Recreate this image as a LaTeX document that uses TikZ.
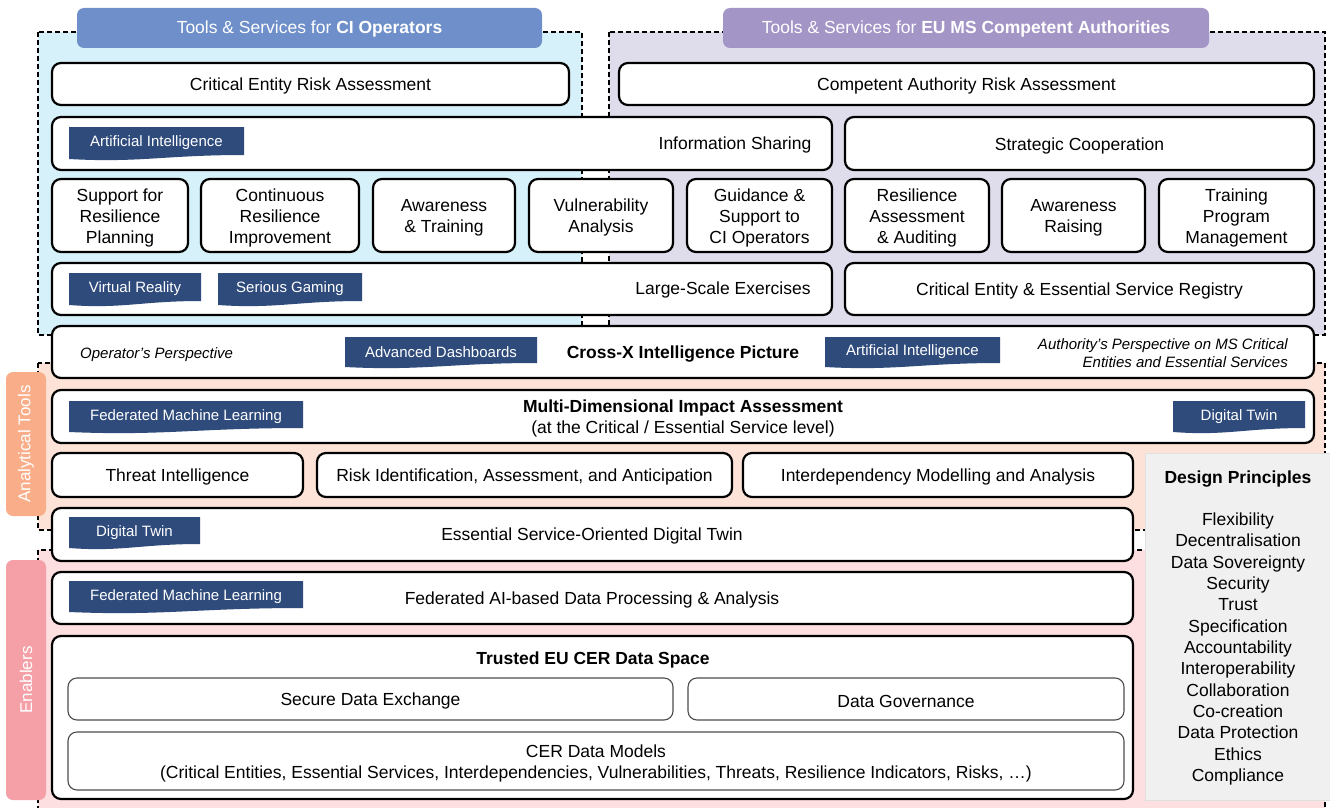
\documentclass[tikz,border=0pt]{standalone}
\usepackage{fontspec}
\setmainfont{Liberation Sans}
\usetikzlibrary{fit}
\definecolor{ciblue}{HTML}{D7F1FB}
\definecolor{eulav}{HTML}{DFDCEC}
\definecolor{anpeach}{HTML}{FDE3D7}
\definecolor{enpink}{HTML}{FDDFE1}
\definecolor{citabc}{HTML}{6E8FC9}
\definecolor{eutabc}{HTML}{A395C6}
\definecolor{antabc}{HTML}{F9AD88}
\definecolor{entabc}{HTML}{F59FA7}
\definecolor{navy}{HTML}{2F4B7C}
\definecolor{dpgray}{HTML}{F0F0F0}
\newcommand\mainfs{\fontsize{17.5}{21}\selectfont}
\newcommand\badgefs{\fontsize{15}{18}\selectfont}
\newcommand\perspfs{\fontsize{15}{18}\selectfont}
\tikzset{
 box/.style={draw=black, line width=2.2pt, rounded corners=9pt, fill=white, inner sep=0pt},
 thinbox/.style={draw=black!70, line width=1.1pt, rounded corners=9pt, fill=white, inner sep=0pt},
 txt/.style={font=\mainfs, align=center, inner sep=0pt, yshift=-2pt},
 region/.style={draw=black, line width=1.4pt, dash pattern=on 5pt off 3pt},
 tabbox/.style={rounded corners=7pt, inner sep=0pt},
 tabtxt/.style={text=white, font=\mainfs, inner sep=0pt, yshift=-1pt},
 badgetxt/.style={text=white, font=\badgefs, inner sep=0pt, yshift=-2pt},
 persp/.style={font=\perspfs\itshape, inner sep=0pt, yshift=-1pt},
}
\newcommand\rbox[7][box]{\node[#1, fit={(#3,#4) (#5,#6)}] (#2) {};
  \node[txt] (#2t) at (#2.center) {#7};}
\newcommand\mybadge[6]{%
  \fill[navy] (#2,#3) -- (#4,#3) -- (#4,#5) .. controls ({#2+0.55*(#4-#2)},#5) and ({#2+0.4*(#4-#2)},{#5+8}) .. (#2,{#5+4}) -- cycle;
  \node[badgetxt] (#1) at ({(#2+#4)/2},{(#3+#5)/2}) {#6};}
\begin{document}
\begin{tikzpicture}[x=1pt,y=-1pt]
\useasboundingbox (0,0) rectangle (1330,808);
% regions
\path[region, fill=ciblue] (38,32) rectangle (582,335);
\path[region, fill=eulav] (609,32) rectangle (1325,335);
\path[region, fill=anpeach] (38,363) rectangle (1325,530);
\path[region, fill=enpink] (38,550) rectangle (1325,815);
% tabs
\node[tabbox, fill=citabc, fit={(77,8) (542,48)}] (citab) {};
\node[tabtxt] (citabt) at (citab.center) {Tools \& Services for \textbf{CI Operators}};
\node[tabbox, fill=eutabc, fit={(723,8) (1209,48)}] (eutab) {};
\node[tabtxt] (eutabt) at (eutab.center) {Tools \& Services for \textbf{EU MS Competent Authorities}};
\node[tabbox, fill=antabc, fit={(6,372) (46,516)}] (antab) {};
\node[rotate=90, text=white, font=\fontsize{17}{20}\selectfont, inner sep=0pt] (antabt) at (antab.center) {Analytical Tools};
\node[tabbox, fill=entabc, fit={(6,560) (46,800)}] (entab) {};
\node[rotate=90, text=white, font=\fontsize{17}{20}\selectfont, inner sep=0pt] (entabt) at (entab.center) {Enablers};
% top rows
\rbox{cera}{52}{63}{569}{105}{Critical Entity Risk Assessment}
\rbox{cara}{619}{63}{1314}{105}{Competent Authority Risk Assessment}
\rbox{infosh}{52}{117}{832}{170}{}
\node[txt] (infosht2) at (735,143) {Information Sharing};
\mybadge{ai1}{69}{127}{244}{155}{Artificial Intelligence}
\rbox{strat}{845}{117}{1314}{170}{Strategic Cooperation}
\rbox{srp}{52}{179}{188}{252}{Support for\\Resilience\\Planning}
\rbox{cri}{201}{179}{359}{252}{Continuous\\Resilience\\Improvement}
\rbox{awt}{373}{179}{515}{252}{Awareness\\\& Training}
\rbox{vul}{529}{179}{673}{252}{Vulnerability\\Analysis}
\rbox{gui}{687}{179}{832}{252}{Guidance \&\\Support to\\CI Operators}
\rbox{raa}{845}{179}{989}{252}{Resilience\\Assessment\\\& Auditing}
\rbox{awr}{1002}{179}{1145}{252}{Awareness\\Raising}
\rbox{tpm}{1159}{179}{1314}{252}{Training\\Program\\Management}
\rbox{lse}{52}{263}{832}{315}{}
\node[txt] (lset2) at (723,288) {Large-Scale Exercises};
\mybadge{vr}{69}{273}{201}{301}{Virtual Reality}
\mybadge{sg}{218}{273}{362}{301}{Serious Gaming}
\rbox{reg}{845}{263}{1314}{315}{Critical Entity \& Essential Service Registry}
% cross-x
\rbox{cx}{52}{326}{1314}{378}{}
\node[persp, anchor=west] (opp) at (80,354) {Operator’s Perspective};
\mybadge{ad}{345}{337}{537}{363}{Advanced Dashboards}
\node[txt, font=\mainfs\bfseries] (cxt2) at (683,352) {Cross-X Intelligence Picture};
\mybadge{ai2}{825}{337}{1000}{363}{Artificial Intelligence}
\node[persp, align=right, anchor=east] (aup) at (1288,352) {Authority’s Perspective on MS Critical\\Entities and Essential Services};
% analytical
\rbox{mdia}{52}{390}{1314}{443}{}
\mybadge{fml1}{69}{401}{303}{428}{Federated Machine Learning}
\node[txt] (mdiat2) at (683,416) {\textbf{Multi-Dimensional Impact Assessment}\\(at the Critical / Essential Service level)};
\mybadge{dt1}{1173}{401}{1305}{428}{Digital Twin}
\rbox{thr}{52}{453}{303}{497}{Threat Intelligence}
\rbox{rid}{317}{453}{732}{497}{Risk Identification, Assessment, and Anticipation}
\rbox{imd}{743}{453}{1133}{497}{Interdependency Modelling and Analysis}
\rbox{esdt}{52}{508}{1133}{561}{}
\mybadge{dt2}{69}{517}{200}{544}{Digital Twin}
\node[txt] (esdtt2) at (592,534) {Essential Service-Oriented Digital Twin};
% enablers
\rbox{fed}{52}{572}{1133}{624}{}
\mybadge{fml2}{69}{581}{303}{608}{Federated Machine Learning}
\node[txt] (fedt2) at (592,598) {Federated AI-based Data Processing \& Analysis};
\rbox{ds}{52}{636}{1133}{799}{}
\node[txt, font=\mainfs\bfseries] (dst2) at (593,658) {Trusted EU CER Data Space};
\rbox[thinbox]{sde}{68}{678}{673}{720}{Secure Data Exchange}
\rbox[thinbox]{dg}{688}{678}{1124}{720}{Data Governance}
\rbox[thinbox]{cdm}{68}{732}{1124}{790}{CER Data Models\\(Critical Entities, Essential Services, Interdependencies, Vulnerabilities, Threats, Resilience Indicators, Risks, …)}
% design principles
\node[fill=dpgray, draw=black!12, line width=0.6pt, inner sep=0pt, fit={(1145,453) (1334,800)}] (dp) {};
\node[txt, font=\mainfs\bfseries] (dpt) at (1238,477) {Design Principles};
\node[txt, font={\fontsize{17.5}{21.33}\selectfont}] (dpl) at (1238,647) {Flexibility\\Decentralisation\\Data Sovereignty\\Security\\Trust\\Specification\\Accountability\\Interoperability\\Collaboration\\Co-creation\\Data Protection\\Ethics\\Compliance};
\end{tikzpicture}
\end{document}
